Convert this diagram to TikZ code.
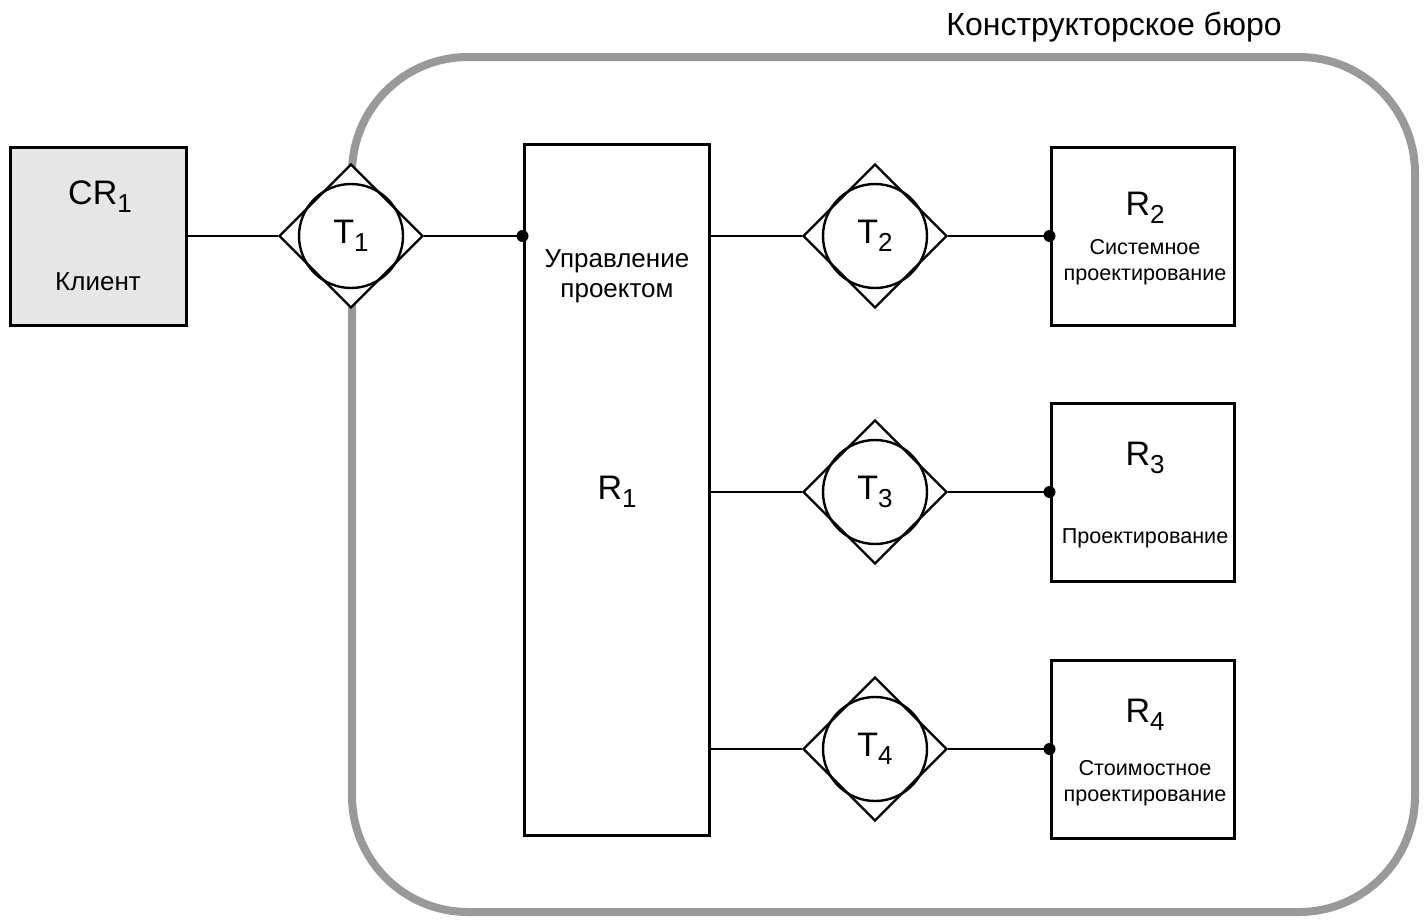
\documentclass[tikz,border=0pt]{standalone}
\usepackage{fontspec}
\setmainfont{Liberation Sans}
\usetikzlibrary{shapes.geometric}
\definecolor{framegray}{HTML}{999999}
\definecolor{clientfill}{HTML}{E6E6E6}
\newcommand\lsub[1]{\raisebox{-0.45ex}{\fontsize{13}{13}\selectfont #1}}
\tikzset{
  box/.style={draw, line width=1.5pt, inner sep=0pt},
  tdiamond/.style={draw, diamond, fill=white, line width=1.2pt, inner sep=0pt, minimum width=72pt, minimum height=72pt},
  tcircle/.style={draw, circle, line width=1.2pt, inner sep=0pt, minimum size=52pt, font=\fontsize{17}{19}\selectfont},
  conn/.style={line width=1.2pt},
  dotn/.style={circle, fill=black, inner sep=0pt, minimum size=6pt},
  big/.style={font=\fontsize{17}{19}\selectfont},
  mid/.style={font=\fontsize{13}{15}\selectfont, align=center},
  small/.style={font=\fontsize{10.8}{13}\selectfont, align=center},
}
\begin{document}
\begin{tikzpicture}[x=0.5pt,y=-0.5pt]
\useasboundingbox (0,0) rectangle (1424,921);
% frame
\draw[framegray, line width=4pt, rounded corners=58pt] (352,57) rectangle (1415,912);
\node[font=\fontsize{16}{18}\selectfont] (kb) at (1114,27) {Конструкторское бюро};
% client
\node[box, fill=clientfill, minimum width=88pt, minimum height=89pt] (CR1) at (98,236) {};
\node[big] (cr1t) at (100,197) {CR\lsub{1}};
\node[mid] (klient) at (98,282) {Клиент};
% R1
\node[box, minimum width=92.5pt, minimum height=345.5pt] (R1) at (616.5,489.5) {};
\node[mid] (r1t) at (617,276) {Управление\\проектом};
\node[big] (r1l) at (617,492) {R\lsub{1}};
% R2..R4
\node[box, minimum width=91.5pt, minimum height=89pt] (R2) at (1142.5,236) {};
\node[box, minimum width=91.5pt, minimum height=89pt] (R3) at (1142.5,492.5) {};
\node[box, minimum width=91.5pt, minimum height=89pt] (R4) at (1142.5,749) {};
\node[big] (r2l) at (1145,208) {R\lsub{2}};
\node[small] (r2t) at (1145,262) {Системное\\проектирование};
\node[big] (r3l) at (1145,458) {R\lsub{3}};
\node[small] (r3t) at (1145,538) {Проектирование};
\node[big] (r4l) at (1145,715) {R\lsub{4}};
\node[small] (r4t) at (1145,783) {Стоимостное\\проектирование};
% T diamonds
\foreach \n/\y/\x in {1/236/351, 2/236/875, 3/492/875, 4/749/875}{
  \node[tdiamond] (D\n) at (\x,\y) {};
  \node[tcircle] (T\n) at (\x,\y) {T\lsub{\n}};
}
% connection points
\coordinate (a1) at (R1.west |- D1.east);
\coordinate (b2) at (R1.east |- D2.west);
\coordinate (b3) at (R1.east |- D3.west);
\coordinate (b4) at (R1.east |- D4.west);
\coordinate (e2) at (R2.west |- D2.east);
\coordinate (e3) at (R3.west |- D3.east);
\coordinate (e4) at (R4.west |- D4.east);
\draw[conn] (CR1.east |- D1.west) -- (D1.west);
\draw[conn] (D1.east) -- (a1);
\draw[conn] (b2) -- (D2.west);
\draw[conn] (b3) -- (D3.west);
\draw[conn] (b4) -- (D4.west);
\draw[conn] (D2.east) -- (e2);
\draw[conn] (D3.east) -- (e3);
\draw[conn] (D4.east) -- (e4);
\node[dotn] (p1) at (a1) {};
\node[dotn] (p2) at (e2) {};
\node[dotn] (p3) at (e3) {};
\node[dotn] (p4) at (e4) {};
\end{tikzpicture}
\end{document}
